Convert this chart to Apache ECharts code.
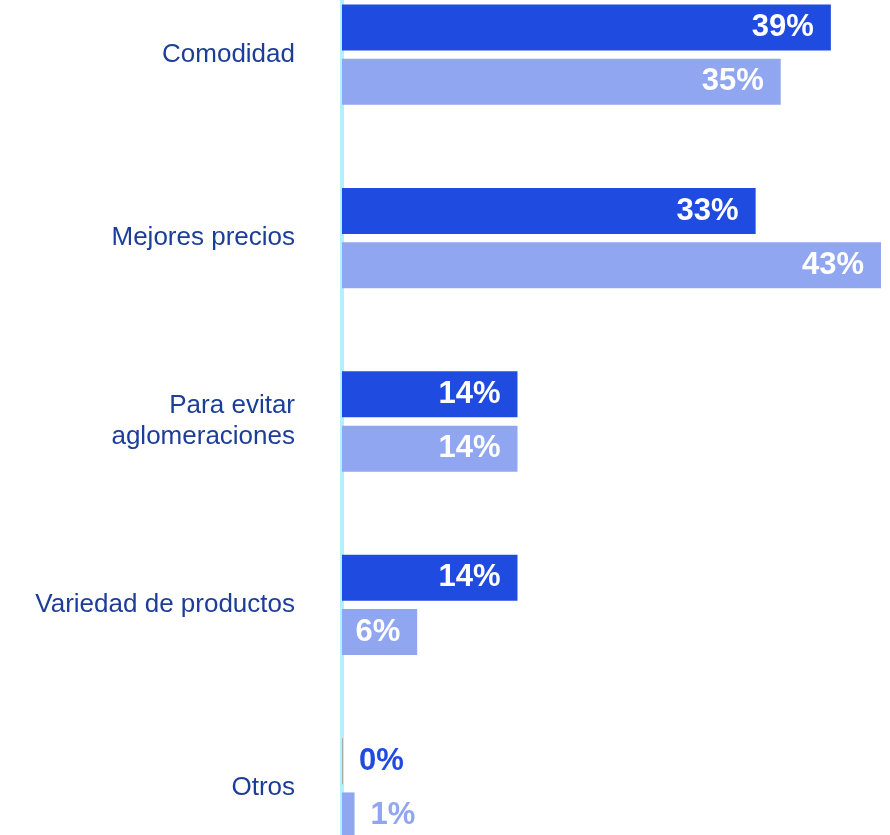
<!DOCTYPE html>
<html>
<head>
<meta charset="utf-8">
<script src="https://cdn.jsdelivr.net/npm/echarts@6/dist/echarts.min.js"></script>
<style>
  html, body { margin: 0; padding: 0; background: #ffffff; overflow: hidden; width: 890px; height: 835px; }
  /* the plot runs past the top and bottom edges of the page */
  #chart { position: absolute; left: 0; top: -37px; width: 890px; height: 917px; }
</style>
</head>
<body>
<div id="chart"></div>
<script>
// Reasons for choosing the channel, two survey waves (percent)
const categories = ['Comodidad', 'Mejores precios', 'Para evitar\naglomeraciones', 'Variedad de productos', 'Otros'];
const waveA = [39, 33, 14, 14, 0];
const waveB = [35, 43, 14, 6, 1];

const DARK = '#1f4be1';
const LIGHT = '#91a6f0';
const TEXT = '#1c3d98';

// Small values get their label outside the bar, in the bar colour
function buildData(values, color) {
  return values.map(function (v) {
    const item = { value: v };
    if (v <= 2) {
      item.label = { position: 'right', distance: 16, color: color };
      if (v === 0) item.itemStyle = { color: '#a9a9a9' };
    }
    return item;
  });
}

const valueLabel = {
  show: true,
  position: 'insideRight',
  distance: 17,
  formatter: '{c}%',
  color: '#ffffff',
  fontFamily: 'Liberation Sans, Arial, sans-serif',
  fontWeight: 'bold',
  fontSize: 31
};

const chart = echarts.init(document.getElementById('chart'));
chart.setOption({
  animation: false,
  grid: { left: 342, right: 9, top: 0, bottom: 0, containLabel: false },
  xAxis: {
    type: 'value', min: 0, max: 43, show: false
  },
  yAxis: {
    type: 'category',
    data: categories,
    inverse: true,
    axisLine: { show: true, lineStyle: { color: '#b3effc', width: 4 } },
    axisTick: { show: false },
    axisLabel: {
      margin: 47,
      color: TEXT,
      fontFamily: 'Liberation Sans, Arial, sans-serif',
      fontSize: 26,
      lineHeight: 31,
      padding: [5, 0, 0, 0],
      align: 'right'
    }
  },
  series: [
    {
      type: 'bar',
      data: buildData(waveA, DARK),
      barWidth: 46,
      barGap: '18%',
      barMinHeight: 1,
      itemStyle: { color: DARK },
      label: valueLabel
    },
    {
      type: 'bar',
      data: buildData(waveB, LIGHT),
      barWidth: 46,
      itemStyle: { color: LIGHT },
      label: valueLabel
    }
  ]
});
</script>
</body>
</html>
